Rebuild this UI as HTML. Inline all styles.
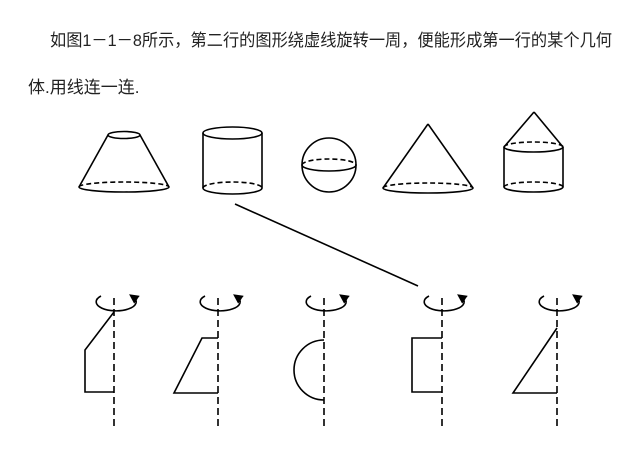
<!DOCTYPE html>
<html><head><meta charset="utf-8"><style>
body{margin:0;background:#fff;width:640px;height:449px;overflow:hidden}
</style></head><body>
<svg width="640" height="449" viewBox="0 0 640 449" xmlns="http://www.w3.org/2000/svg">
<defs>
<marker id="ah" markerWidth="6" markerHeight="6" refX="3" refY="3" orient="auto"><path d="M0,0 L6,3 L0,6 z" fill="#000"/></marker>
</defs>
<g font-family="'Liberation Sans','Noto Sans CJK SC',sans-serif" font-size="17" fill="#222">
<text x="50" y="46" textLength="562" lengthAdjust="spacingAndGlyphs">如图1－1－8所示，第二行的图形绕虚线旋转一周，便能形成第一行的某个几何</text>
<text x="28" y="93">体.用线连一连.</text>
</g>
<g stroke="#000" stroke-width="1.6" fill="none">
<ellipse cx="124" cy="135" rx="16" ry="3.5"/>
<line x1="108" y1="135" x2="79" y2="187"/>
<line x1="140" y1="135" x2="169" y2="187"/>
<path d="M79,187 A45,5 0 0 0 169,187"/>
<path d="M79,187 A45,5 0 0 1 169,187" stroke-dasharray="5,3"/>
<ellipse cx="232.5" cy="133" rx="29.5" ry="6"/>
<line x1="203" y1="133" x2="203" y2="188"/>
<line x1="262" y1="133" x2="262" y2="188"/>
<path d="M203,188 A29.5,6 0 0 0 262,188"/>
<path d="M203,188 A29.5,6 0 0 1 262,188" stroke-dasharray="5,3"/>
<circle cx="329" cy="165" r="27"/>
<path d="M302,165 A27,6 0 0 0 356,165"/>
<path d="M302,165 A27,6 0 0 1 356,165" stroke-dasharray="5,3"/>
<line x1="428" y1="124" x2="383" y2="188"/>
<line x1="428" y1="124" x2="473" y2="188"/>
<path d="M383,188 A45,5 0 0 0 473,188"/>
<path d="M383,188 A45,5 0 0 1 473,188" stroke-dasharray="5,3"/>
<line x1="534" y1="112" x2="504" y2="147"/>
<line x1="534" y1="112" x2="563" y2="147"/>
<path d="M504,147 A29.5,5 0 0 0 563,147"/>
<path d="M504,147 A29.5,5 0 0 1 563,147" stroke-dasharray="5,3"/>
<line x1="504" y1="147" x2="504" y2="187"/>
<line x1="563" y1="147" x2="563" y2="187"/>
<path d="M504,187 A29.5,5 0 0 0 563,187"/>
<path d="M504,187 A29.5,5 0 0 1 563,187" stroke-dasharray="5,3"/>
<line x1="235" y1="204" x2="418" y2="286"/>
</g>
<g stroke="#000" stroke-width="1.6" fill="none">
<g stroke-dasharray="7,4">
<line x1="114" y1="298" x2="114" y2="428"/>
<line x1="218" y1="298" x2="218" y2="428"/>
<line x1="324" y1="298" x2="324" y2="428"/>
<line x1="442" y1="298" x2="442" y2="428"/>
<line x1="557" y1="298" x2="557" y2="428"/>
</g>
<path d="M101,296 A20,9 0 1 0 133,297" marker-end="url(#ah)"/>
<path d="M205,296 A20,9 0 1 0 237,297" marker-end="url(#ah)"/>
<path d="M311,296 A20,9 0 1 0 343,297" marker-end="url(#ah)"/>
<path d="M429,296 A20,9 0 1 0 461,297" marker-end="url(#ah)"/>
<path d="M544,296 A20,9 0 1 0 576,297" marker-end="url(#ah)"/>
<polyline points="114,312 85,350 85,392 114,392"/>
<polyline points="218,338 202,338 174,393 218,393"/>
<path d="M324,340 A30,30 0 0 0 324,400"/>
<polyline points="442,338 412,338 412,392 442,392"/>
<polyline points="557,328 513,393 557,393"/>
</g>
</svg>
</body></html>
